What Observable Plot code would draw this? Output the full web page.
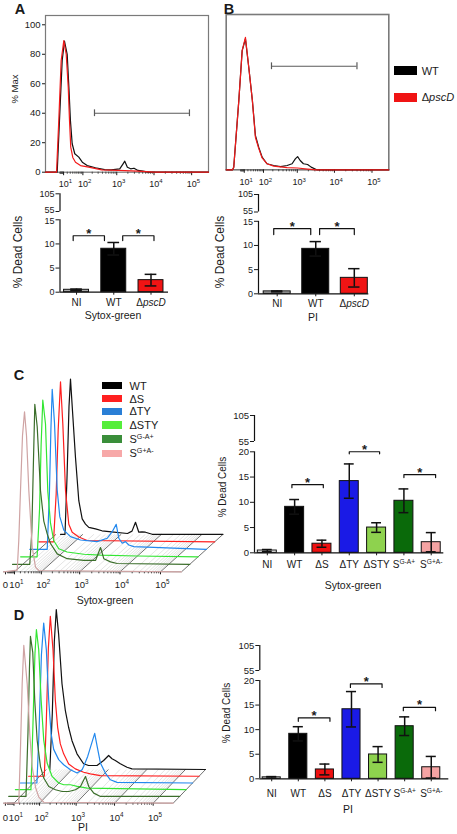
<!DOCTYPE html>
<html><head><meta charset="utf-8">
<script src="https://cdn.jsdelivr.net/npm/d3@7"></script>
<script src="https://cdn.jsdelivr.net/npm/@observablehq/plot@0.6"></script>
<style>
body{margin:0;background:#fff;}
#fig{position:relative;width:457px;height:834px;overflow:hidden;background:#fff;font-family:"Liberation Sans",Arial,Helvetica,sans-serif;color:#1a1a1a;}
#fig svg{position:absolute;overflow:visible;}
.lbl{position:absolute;white-space:nowrap;transform:translate(-50%,-50%);line-height:1;}
.rot{transform:translate(-50%,-50%) rotate(-90deg);}
.sw{position:absolute;}
.lt{position:absolute;white-space:nowrap;transform:translateY(-50%);line-height:1;font-size:11px;}
sup{font-size:0.65em;vertical-align:0.45em;line-height:0;}
</style></head>
<body><div id="fig"></div>
<script>
// ---------- DATA ----------
// Panel A histograms (Sytox-green fluorescence, % of max)
const histA_WT = [[-38,0],[-3.3,0],[1.1,35],[6.7,75.8],[12.2,88.9],[19.8,80],[25.2,57.7],[30.7,35],[37.6,19.3],[49.2,12.5],[71.2,10.2],[95.5,6.8],[138.9,4.5],[250,3],[463,1.8],[700,1.6],[1205,2.3],[1485,5.7],[1650,7.5],[1940,3.4],[2380,2.3],[2920,2.7],[3740,1.2],[5080,0.7],[7000,0],[280000,0]];
const histA_pscD = [[-38,0],[-4.7,0],[-0.2,35],[4.5,75.8],[10.5,89.3],[16.9,80],[23.1,57.7],[27.4,35],[31.9,17],[40.1,10],[52.7,6.8],[82.2,4.5],[155.3,3.4],[380,1.6],[1085,1.2],[3740,0.7],[10000,0],[280000,0]];
// Panel B histograms (PI fluorescence, % of max)
const histB_WT = [[-38,0],[-16,0],[-12.8,1.8],[-1.4,46.8],[5.2,80.6],[13,88.5],[22.7,69.3],[35.8,46.8],[49.2,23.2],[66.9,15.3],[89.6,8.5],[130.6,4.1],[213,2.9],[338,2.2],[523,2.9],[719,4.1],[883,7.4],[1020,8.9],[1200,6.3],[1470,4.1],[1910,3.6],[2380,1.8],[3350,0],[280000,0]];
const histB_pscD = [[-38,0],[-16,0],[-12.8,1.8],[-1.4,46.8],[5.2,80.6],[13,89.5],[22.7,69.3],[35.8,46.8],[49.2,22],[66.9,14.5],[89.6,8],[130.6,4.1],[213,2.5],[523,1.5],[1020,1.2],[1910,0.5],[3350,0],[280000,0]];
const gateA = {x1: 234, x2: 87400, y: 40};
const gateB = {x1: 182, x2: 39800, y: 70};

// Panel C stacked histograms (Sytox-green), back to front
const histC_WT   = [[17.3,0],[26.7,0],[31.7,35],[37.4,80],[42.0,97],[47.8,80],[60.7,48],[76.4,21],[95.8,9.6],[118.7,6.4],[146.3,4.3],[221,3.4],[326,2.2],[568,1.5],[1439,0.5],[1863,2],[2275,7.5],[2748,1.3],[3300,1.5],[4010,1.3],[5900,0],[330000,0]];
const histC_dS   = [[0.09,0],[19.8,0],[25.5,30],[30.4,70],[36.8,100],[44.0,74],[53.8,32],[68.0,11],[85.6,6],[131.4,3],[221,0.8],[330000,0]];
const histC_dTY  = [[-0.52,0],[24.0,0],[29.2,35],[33.1,75],[36.8,100],[44.0,79],[53.8,37],[64.7,20.4],[85.1,12],[131.4,7.9],[243.5,5.8],[652,4.8],[1164,6.9],[1551,11],[1950,15.6],[2265,6.9],[2748,3.8],[3300,4.8],[4010,2.7],[5330,1.7],[330000,0]];
const histC_dSTY = [[-1.3,0],[20.2,0],[25.5,30],[29.2,70],[33.6,98],[41.7,83],[49.6,41],[60.3,21],[75.8,10],[105.7,5],[178.5,3],[485,1.6],[1276,1],[10300,0.5],[330000,0]];
const histC_GAp  = [[-1.15,0],[22.2,0],[26.7,20],[30.4,60],[34.5,100],[41.7,86],[53.4,46],[67.5,27],[85.1,19],[105.7,13],[161.7,6.5],[296.7,3.5],[786,2.5],[1551,2.5],[2054,10.5],[2480,3.5],[3630,1.5],[5330,0.5],[330000,0]];
const histC_GpA  = [[-1.8,0],[14.2,1],[16.9,19.6],[20.2,51],[24.4,85],[29.2,100],[34.5,85],[41.4,51],[53.4,15.4],[67.5,2.9],[84.5,0.8],[330000,0]];

// Panel D stacked histograms (PI), back to front
const histD_WT   = [[15.9,0],[20.8,35],[25.4,80],[30.4,100],[37.1,84.8],[48.8,53.6],[62.7,37],[79.5,26.4],[100.8,18],[141,9.8],[216,3.6],[296,2.5],[499,2.5],[747,5.6],[1011,8.75],[1242,6.7],[1514,5.6],[2046,3.6],[3057,1.4],[4125,0.4],[330000,0]];
const histD_dS   = [[-2.51,0],[17.7,0],[21.9,35],[26.6,80],[31.8,100],[40.0,78.6],[48.1,47.3],[57.3,30.6],[69.9,20.2],[88.5,14],[124.4,7.7],[192.7,4.6],[326,2.5],[493,1.5],[906,0.4],[330000,0]];
const histD_dTY  = [[-4.5,0],[15.9,0],[19.8,30],[25.4,80],[31.3,100],[39.3,83],[47.3,52],[56.9,31],[68.9,21],[98.1,14.6],[137.4,11.4],[212,8.3],[324,6.2],[441,8.3],[487,10.4],[622,16.6],[952,31],[1101,23],[1343,12.5],[1814,6.2],[2448,2],[3660,0.4],[330000,0]];
const histD_dSTY = [[-2.83,0],[16.8,0],[20.8,40],[25.4,85],[29.1,100],[35.6,87.5],[43.4,56],[53.2,31],[68.4,16.7],[97.4,8.3],[151.7,4.2],[209.5,3.1],[320,3.1],[484,2.1],[890,1],[330000,0]];
const histD_GAp  = [[-3.05,0],[19.8,0],[24.2,40],[27.8,80],[30.4,100],[37.1,90],[43.7,60],[52.8,35],[67.5,18.7],[85.4,11.5],[120.3,6.2],[186.6,4.2],[286,3.1],[430,3.1],[649,4.2],[879,6.2],[1190,12.5],[1452,6.2],[1962,2.1],[2931,0],[330000,0]];
const histD_GpA  = [[-1.5,0],[18.3,0],[21.9,35],[25.8,75],[29.9,98.6],[40.0,74.6],[49.2,43],[59.1,22.5],[75.2,10],[94.7,3.8],[132.9,0.6],[330000,0]];

// Bar charts (% dead cells, mean and SEM)
const catsAB = ["NI", "WT", "ΔpscD"];
const barA_mean = [0.5, 9.0, 2.5];
const barA_err  = [0.15, 1.3, 1.2];
const barB_mean = [0.5, 9.3, 3.3];
const barB_err  = [0.1, 1.5, 1.9];
const catsCD = ["NI", "WT", "ΔS", "ΔTY", "ΔSTY", "S^G-A+", "S^G+A-"];
const barC_mean = [0.45, 9.1, 1.8, 14.2, 5.0, 10.3, 2.1];
const barC_err  = [0.2, 1.45, 0.7, 3.4, 0.95, 2.35, 1.9];
const barD_mean = [0.3, 9.15, 1.9, 14.15, 4.95, 10.7, 2.35];
const barD_err  = [0.15, 1.45, 1.1, 3.6, 1.6, 1.9, 2.2];
const sigA = [["NI", "WT", 11.7], ["WT", "ΔpscD", 11.7]];
const sigB = [["NI", "WT", 13.5], ["WT", "ΔpscD", 13.5]];
const sigC = [["WT", "ΔS", 13.5], ["ΔTY", "ΔSTY", 20.2], ["S^G-A+", "S^G+A-", 15.5]];
const sigD = [["WT", "ΔS", 12.4], ["ΔTY", "ΔSTY", 19.3], ["S^G-A+", "S^G+A-", 14.55]];

// Tick values
const yTicksAB = [0, 5, 10, 15, 55, 105];
const yTicksCD = [0, 5, 10, 15, 20, 55, 105];
const yTicksHist = [0, 20, 40, 60, 80, 100];
const histTicks = [10, 100, 1000, 10000, 100000];
const histTicksCD = [0, 10, 100, 1000, 10000, 100000];
const minorTicks = [];
for (const p of [1, 10, 100, 1000, 10000]) for (const m of [2,3,4,5,6,7,8,9]) minorTicks.push(m * p);
const minorGrid = minorTicks.filter(t => t >= 20);
const seriesAB = ["WT", "ΔpscD"];
const seriesCD = ["WT", "ΔS", "ΔTY", "ΔSTY", "S^G-A+", "S^G+A-"];

// ---------- STYLES ----------
const FONT = '"Liberation Sans", Arial, Helvetica, sans-serif';
const colAB = {"NI": "#a8a8a8", "WT": "#000000", "ΔpscD": "#f01414"};
const lineAB = {"WT": "#111111", "ΔpscD": "#f21a1a"};
const legAB = {"WT": "#000000", "ΔpscD": "#f01414"};
const histColCD = {"WT": "#111111", "ΔS": "#ff1f1f", "ΔTY": "#2288ee", "ΔSTY": "#33e633", "S^G-A+": "#3b6e2b", "S^G+A-": "#cfa3a3"};
const legColCD = {"WT": "#000000", "ΔS": "#ff2020", "ΔTY": "#2a7fd6", "ΔSTY": "#55ee3a", "S^G-A+": "#3a8e3a", "S^G+A-": "#f7a8a8"};
const barColCD = {"NI": "#ffffff", "WT": "#000000", "ΔS": "#ee1111", "ΔTY": "#1a1ae6", "ΔSTY": "#8ed24e", "S^G-A+": "#0a6a0a", "S^G+A-": "#f5a3a3"};

const fig = document.getElementById("fig");
const NS = "http://www.w3.org/2000/svg";

function richify(root) {
  root.querySelectorAll("text").forEach(t => {
    if (t.childElementCount) return;
    const s = t.textContent;
    const sup = s.indexOf("^"), it = s.indexOf("pscD");
    if (sup < 0 && it < 0) return;
    t.textContent = "";
    if (sup >= 0) {
      t.append(s.slice(0, sup));
      const ts = document.createElementNS(NS, "tspan");
      ts.setAttribute("font-size", "0.66em");
      ts.setAttribute("dy", "-0.6em");
      ts.textContent = s.slice(sup + 1);
      t.append(ts);
      if (s.startsWith("10^")) t.setAttribute("dx", "0.2em");
    } else {
      t.append(s.slice(0, it));
      const ts = document.createElementNS(NS, "tspan");
      ts.setAttribute("font-style", "italic");
      ts.textContent = "pscD";
      t.append(ts);
      t.append(s.slice(it + 4));
    }
  });
}
function place(svg, left, top) {
  svg.style.left = left + "px";
  svg.style.top = top + "px";
  richify(svg);
  fig.appendChild(svg);
}
function html(s) {
  return s.replace(/\^(.+)$/, "<sup>$1</sup>").replace("pscD", "<i>pscD</i>");
}
function label(text, x, y, size, opts = {}) {
  const d = document.createElement("div");
  d.className = "lbl" + (opts.rot ? " rot" : "");
  d.style.left = x + "px"; d.style.top = y + "px";
  d.style.fontSize = size + "px";
  if (opts.bold) d.style.fontWeight = "bold";
  d.innerHTML = html(text);
  fig.appendChild(d);
}
const pow = d => "10^" + Math.round(Math.log10(d));
const style = {background: "transparent", overflow: "visible", fontFamily: FONT};

// ---------- Histograms A / B ----------
function histAB(o) {
  const marks = [
    Plot.frame({stroke: "#7a7a7a", strokeWidth: o.frameW}),
    Plot.axisX({ticks: minorTicks, tickSize: 2, tickFormat: () => "", label: null, stroke: "#444"}),
    Plot.axisX({ticks: histTicks, tickSize: 3.5, tickPadding: o.xpad, tickFormat: pow, fontSize: 9, label: null}),
    Plot.ruleY([o.gate], {y: "y", x1: "x1", x2: "x2", stroke: "#5a5a5a", strokeWidth: 1.2}),
    Plot.ruleX([o.gate.x1, o.gate.x2], {x: d => d, y1: () => o.gate.y - 2.3, y2: () => o.gate.y + 2.3, stroke: "#5a5a5a", strokeWidth: 1.2}),
    Plot.line(o.wt, {x: d => d[0], y: d => d[1], stroke: lineAB["WT"], strokeWidth: 1.2}),
    Plot.line(o.ko, {x: d => d[0], y: d => d[1], stroke: lineAB["ΔpscD"], strokeWidth: 1.2})
  ];
  if (o.yAxis) marks.push(Plot.axisY({ticks: yTicksHist, tickSize: 3, tickPadding: 2, fontSize: 9.5, label: null}));
  const yOpt = {type: "linear", domain: [0, o.ymax]};
  if (!o.yAxis) yOpt.axis = null;
  return Plot.plot({
    width: o.w, height: o.h, marginLeft: o.ml, marginRight: o.mr, marginTop: o.mt, marginBottom: o.mb,
    x: {type: "symlog", constant: 30, domain: [-38, 280000]},
    y: yOpt, style, marks
  });
}
place(histAB({wt: histA_WT, ko: histA_pscD, gate: gateA, w: 215, h: 195, ml: 45, mr: 7, mt: 15, mb: 23.3, ymax: 106.3, xpad: 4.8, yAxis: true, frameW: 1.2}), 0, 0);
place(histAB({wt: histB_WT, ko: histB_pscD, gate: gateB, w: 180, h: 195, ml: 10.7, mr: 6.7, mt: 14, mb: 25.7, ymax: 105, xpad: 5.6, yAxis: false, frameW: 1.6}), 215, 0);

// ---------- Stacked histograms C / D ----------
function stackedHist(o) {
  const xOpt = {type: "symlog", constant: 15, domain: [-1.8, 330000], range: [o.x0, o.x1]};
  const yOpt = {type: "linear", domain: [0, 100], range: [o.base, o.base - 160]};
  const xs = Plot.scale({x: xOpt}), ys = Plot.scale({y: yOpt});
  const n = o.series.length - 1;
  const backY = ys.invert(o.base - n * o.DY);
  const diag = t => ({t, t2: xs.invert(xs.apply(t) + n * o.DX)});
  const gMajor = [...histTicks, 330000].map(diag);
  const gMinor = minorGrid.map(diag);
  const lines = o.series.map((data, i) => {
    const k = n - i; // depth: first is back-most
    return Plot.line(data, {x: d => d[0], y: d => d[1], stroke: histColCD[seriesCD[i]], strokeWidth: 1.2, dx: k * o.DX, dy: -k * o.DY});
  });
  return Plot.plot({
    width: o.w, height: o.h, marginLeft: o.x0, marginRight: o.w - o.x1, marginTop: o.base - 160, marginBottom: o.h - o.base,
    x: xOpt, y: {...yOpt, axis: null}, style,
    marks: [
      Plot.link(gMinor, {x1: "t", y1: () => 0, x2: "t2", y2: () => backY, stroke: "#d2d2d2", strokeWidth: 0.6}),
      Plot.link(gMajor, {x1: "t", y1: () => 0, x2: "t2", y2: () => backY, stroke: "#333", strokeWidth: 0.7}),
      Plot.ruleY([0], {stroke: "#999", strokeWidth: 1}),
      Plot.axisX({ticks: minorTicks, tickSize: 2, tickFormat: () => "", label: null, stroke: "#444"}),
      Plot.axisX({ticks: histTicksCD, tickSize: 3, tickPadding: o.xpad, tickFormat: d => d === 0 ? "0" : pow(d), fontSize: 9.5, label: null}),
      ...lines
    ]
  });
}
place(stackedHist({series: [histC_WT, histC_dS, histC_dTY, histC_dSTY, histC_GAp, histC_GpA], w: 232, h: 232, x0: 3, x1: 181, base: 201.3, DX: 8.3, DY: 7.5, xpad: 6.3}), 0, 370);
place(stackedHist({series: [histD_WT, histD_dS, histD_dTY, histD_dSTY, histD_GAp, histD_GpA], w: 232, h: 232, x0: 3, x1: 172.7, base: 202.7, DX: 6.46, DY: 6.74, xpad: 7.6}), 0, 600);

// ---------- Bar charts ----------
function barChart(o) {
  const rows = o.cats.map((c, i) => ({c, i, m: o.mean[i], e: o.err[i], col: o.colors[c]}));
  const idx = c => o.cats.indexOf(c);
  const br = o.sig.flatMap(([a, b, lvl], k) => {
    const xa = idx(a) + o.sigOff[k][0], xb = idx(b) + o.sigOff[k][1];
    return [{k, x: xa, y: lvl - o.drop}, {k, x: xa, y: lvl}, {k, x: xb, y: lvl}, {k, x: xb, y: lvl - o.drop}];
  });
  const stars = o.sig.map(([a, b, lvl], k) => ({x: (idx(a) + o.sigOff[k][0] + idx(b) + o.sigOff[k][1]) / 2, y: lvl}));
  const yd = o.yDomain;
  // tick labels on each side of the axis break are nudged apart so they do not collide
  const nudge = new Map([[yd[1], o.breakDy[0]], [yd[2], o.breakDy[1]]]);
  const isNudged = v => nudge.has(v) && nudge.get(v) !== 0;
  const nudged = o.yTicks.filter(isNudged);
  const marks = [
    Plot.rect(rows, {x1: d => d.i - o.bw / 2, x2: d => d.i + o.bw / 2, y1: () => 0, y2: "m", fill: "col", stroke: "#111", strokeWidth: 1}),
    Plot.ruleX(rows, {x: "i", y1: d => d.m - d.e, y2: d => d.m + d.e, stroke: "#111", strokeWidth: 1.5}),
    Plot.ruleY(rows, {y: d => d.m + d.e, x1: d => d.i - o.cap, x2: d => d.i + o.cap, stroke: "#111", strokeWidth: 1.5}),
    Plot.ruleY(rows, {y: d => d.m - d.e, x1: d => d.i - o.cap, x2: d => d.i + o.cap, stroke: "#111", strokeWidth: 1.5}),
    Plot.ruleY([0], {stroke: "#111", strokeWidth: 1.2}),
    Plot.ruleX([[0, yd[1]], [yd[2], yd[3]]], {x: () => o.xDomain[0], y1: d => d[0], y2: d => d[1], stroke: "#111", strokeWidth: 1.2}),
    Plot.axisY({ticks: o.yTicks, tickSize: 4, tickPadding: 1.5, fontSize: o.yfs, label: null, tickFormat: v => isNudged(v) ? "" : String(v)}),
    Plot.axisX({ticks: o.cats.map((c, i) => i), tickFormat: i => o.cats[i], tickSize: 3, tickPadding: o.xpad, fontSize: 10, label: null}),
    Plot.line(br, {x: "x", y: "y", z: "k", stroke: "#111", strokeWidth: 1.2}),
    Plot.text(stars, {x: "x", y: "y", text: () => "*", fontSize: 13, fontWeight: "bold", dy: -2})
  ];
  for (const v of nudged) marks.push(Plot.text([v], {x: () => o.xDomain[0], y: d => d, text: d => String(d), textAnchor: "end", dx: -5.5, dy: nudge.get(v), fontSize: o.yfs}));
  return Plot.plot({
    width: o.w, height: o.h, marginLeft: o.ml, marginRight: o.mr, marginTop: 5, marginBottom: o.h - o.yRange[0],
    x: {type: "linear", domain: o.xDomain},
    y: {type: "linear", domain: yd, range: o.yRange},
    color: {type: "identity"},
    style, marks
  });
}
place(barChart({cats: catsAB, mean: barA_mean, err: barA_err, colors: colAB, sig: sigA, yTicks: yTicksAB,
  yDomain: [0, 15, 55, 105], yRange: [111.7, 39.3, 31, 13.3], xDomain: [-0.444, 2.47], w: 215, h: 135, ml: 59.5, mr: 47,
  bw: 0.67, cap: 0.157, drop: 1.0, sigOff: [[-0.09, -0.25], [0.24, 0.08]], xpad: 3.4, yfs: 9, breakDy: [1.3, -1.6]}), 0, 180);
place(barChart({cats: catsAB, mean: barB_mean, err: barB_err, colors: colAB, sig: sigB, yTicks: yTicksAB,
  yDomain: [0, 15, 55, 105], yRange: [113.3, 40.8, 31.5, 14], xDomain: [-0.485, 2.376], w: 242, h: 140, ml: 43, mr: 88.7,
  bw: 0.70, cap: 0.147, drop: 1.25, sigOff: [[-0.09, -0.13], [0.1, 0]], xpad: 3.4, yfs: 9, breakDy: [1.1, -1.2]}), 215, 180);
place(barChart({cats: catsCD, mean: barC_mean, err: barC_err, colors: barColCD, sig: sigC, yTicks: yTicksCD,
  yDomain: [0, 20, 55, 105], yRange: [152.3, 51.3, 41, 15], xDomain: [-0.469, 6.46], w: 242, h: 200, ml: 39, mr: 13.7,
  bw: 0.695, cap: 0.18, drop: 0.6, sigOff: [[-0.1, 0.05], [0, 0.11], [0, 0.16]], xpad: 5, yfs: 9.5, breakDy: [0, 0]}), 215, 400);
place(barChart({cats: catsCD, mean: barD_mean, err: barD_err, colors: barColCD, sig: sigD, yTicks: yTicksCD,
  yDomain: [0, 20, 55, 105], yRange: [148.3, 50, 40, 15], xDomain: [-0.448, 6.66], w: 242, h: 200, ml: 44.3, mr: 8.7,
  bw: 0.68, cap: 0.19, drop: 0.7, sigOff: [[0, 0.19], [-0.04, 0.15], [-0.05, 0.16]], xpad: 7.8, yfs: 9.5, breakDy: [0, 0]}), 215, 630);

// ---------- Text labels ----------
label("A", 20, 8.5, 14.5, {bold: true});
label("B", 229, 8.5, 14.5, {bold: true});
label("C", 19, 375, 14.5, {bold: true});
label("D", 19, 614.5, 14.5, {bold: true});
label("% Max", 15, 89, 9.5, {rot: true});
label("% Dead Cells", 17.5, 252, 12, {rot: true});
label("% Dead Cells", 220, 252, 12, {rot: true});
label("Sytox-green", 113, 315, 10.5);
label("PI", 313, 316.7, 10.5);
label("Sytox-green", 105, 600, 10.5);
label("% Dead Cells", 223, 487, 10, {rot: true});
label("Sytox-green", 353, 585, 10.5);
label("PI", 83, 827, 10.5);
label("% Dead Cells", 227, 713, 10, {rot: true});
label("PI", 348, 809.3, 10.5);

// ---------- Legends ----------
function swatch(x, y, w, h, col) {
  const d = document.createElement("div");
  d.className = "sw";
  Object.assign(d.style, {left: x + "px", top: y + "px", width: w + "px", height: h + "px", background: col});
  fig.appendChild(d);
}
function legText(text, x, y) {
  const d = document.createElement("div");
  d.className = "lt";
  d.style.left = x + "px"; d.style.top = y + "px";
  d.innerHTML = html(text);
  fig.appendChild(d);
}
const legYAB = [70.5, 97.2];
seriesAB.forEach((s, i) => { swatch(394, legYAB[i] - 4.5, 23, 9, legAB[s]); legText(s, 421.7, legYAB[i]); });
const legYCD = [385.5, 398.7, 411.3, 425, 439, 453.3];
seriesCD.forEach((s, i) => { swatch(101.7, legYCD[i] - 3.8, 20, 7.6, legColCD[s]); legText(s, 129.5, legYCD[i]); });
</script>
</body></html>
